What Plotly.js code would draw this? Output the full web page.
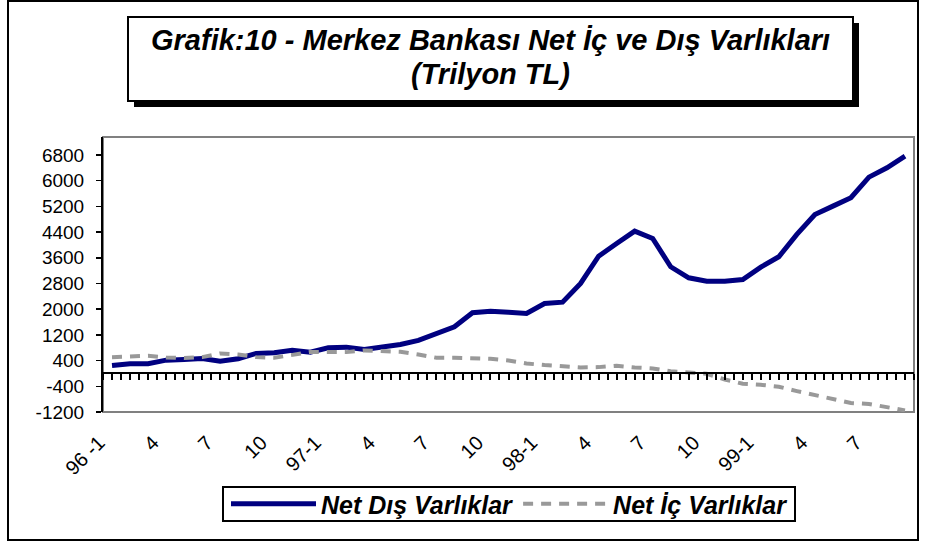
<!DOCTYPE html>
<html>
<head>
<meta charset="utf-8">
<script src="https://cdn.plot.ly/plotly-3.0.1.min.js"></script>
<style>html,body{margin:0;padding:0;background:#fff;}#chart{width:926px;height:548px;}</style>
</head>
<body>
<div id="chart"></div>
<script>
// ---- data ----
const months = [
  "96-1","96-2","96-3","96-4","96-5","96-6","96-7","96-8","96-9","96-10","96-11","96-12",
  "97-1","97-2","97-3","97-4","97-5","97-6","97-7","97-8","97-9","97-10","97-11","97-12",
  "98-1","98-2","98-3","98-4","98-5","98-6","98-7","98-8","98-9","98-10","98-11","98-12",
  "99-1","99-2","99-3","99-4","99-5","99-6","99-7","99-8","99-9"
];
const netDis = [249, 302, 302, 414, 436, 467, 383, 458, 623, 644, 725, 663,
  800, 819, 747, 819, 903, 1027, 1245, 1454, 1889, 1939, 1908, 1868,
  2179, 2219, 2802, 3651, 4047, 4430, 4202, 3321, 2978, 2873, 2873, 2926,
  3309, 3633, 4327, 4949, 5208, 5469, 6111, 6403, 6765];
const netIc = [508, 540, 550, 498, 477, 508, 623, 591, 508, 487, 581, 664,
  664, 664, 716, 695, 674, 591, 487, 487, 467, 456, 400, 311,
  260, 218, 187, 197, 239, 187, 156, 72, 21, -10, -187, -322,
  -353, -415, -550, -675, -788, -920, -950, -1040, -1150];
const tickMonths = ["96-1","96-4","96-7","96-10","97-1","97-4","97-7","97-10",
  "98-1","98-4","98-7","98-10","99-1","99-4","99-7"];
const tickLabels = ["96 -1","4","7","10","97-1","4","7","10","98-1","4","7","10","99-1","4","7"];
const yTicks = [-1200, -400, 400, 1200, 2000, 2800, 3600, 4400, 5200, 6000, 6800];
const yTickLabels = ["-1200", "-400", "400", "1200", "2000", "2800", "3600", "4400", "5200", "6000", "6800"];
const seriesNames = ["Net Dış Varlıklar", "Net İç Varlıklar"];
const titleLines = ["Grafik:10 - Merkez Bankası Net İç ve Dış Varlıkları", "(Trilyon TL)"];

// ---- layout helpers (pixel -> paper) ----
const W = 926, H = 548;
const M = {l: 103, r: 12, t: 137, b: 136};
const PW = W - M.l - M.r, PH = H - M.t - M.b;
const px = x => (x - M.l) / PW;
const py = y => (H - M.b - y) / PH;
const yMin = -1200, yMax = 7360;
const FONT = "Liberation Sans, Arial, sans-serif";

const traces = [
  {x: months, y: netDis, name: seriesNames[0], type: "scatter", mode: "lines",
   line: {color: "#000080", width: 5}},
  {x: months, y: netIc, name: seriesNames[1], type: "scatter", mode: "lines",
   line: {color: "#999999", width: 4, dash: "10px,8px"}},
  // carrier so the zero-line tick axis is drawn (no visible marks)
  {x: [null], y: [null], xaxis: "x2", yaxis: "y", type: "scatter", mode: "lines",
   showlegend: false, hoverinfo: "skip"}
];

const rect = (x0, y0, x1, y1, opts) => Object.assign({
  type: "rect", xref: "paper", yref: "paper",
  x0: px(x0), x1: px(x1), y0: py(y1), y1: py(y0), layer: "above"
}, opts);

const titleFont = {family: FONT, size: 29, weight: "bold", style: "italic", color: "#000"};

const layout = {
  width: W, height: H,
  margin: M,
  paper_bgcolor: "#fff", plot_bgcolor: "#fff",
  showlegend: true,
  font: {family: FONT, color: "#000"},
  xaxis: {
    type: "category", categoryarray: months, range: [-0.5, months.length - 0.5],
    tickmode: "array", tickvals: tickMonths, ticktext: tickLabels,
    tickangle: -45, ticks: "", showline: false, showgrid: false, zeroline: false,
    tickfont: {family: FONT, size: 20, color: "#000"}, ticklabelstandoff: 14,
    ticklabelshift: -13,
    fixedrange: true
  },
  xaxis2: {
    overlaying: "x", anchor: "free", position: (0 - yMin) / (yMax - yMin), side: "bottom",
    type: "linear", range: [-0.5, months.length - 0.5],
    tick0: 0, dtick: 0.5, ticks: "outside", ticklen: 6, tickwidth: 2, tickcolor: "#000",
    showline: true, linecolor: "#000", linewidth: 2,
    showticklabels: false, showgrid: false, zeroline: false, fixedrange: true
  },
  yaxis: {
    range: [yMin, yMax], tickmode: "array", tickvals: yTicks, ticktext: yTickLabels,
    ticks: "outside", ticklen: 5, tickwidth: 1.5, tickcolor: "#000",
    showline: true, linecolor: "#000", linewidth: 2,
    showgrid: false, zeroline: false,
    tickfont: {family: FONT, size: 19, color: "#000"}, ticklabelstandoff: 8,
    fixedrange: true
  },
  legend: {
    orientation: "h", x: px(226), xanchor: "left", y: py(504), yanchor: "middle",
    bgcolor: "rgba(0,0,0,0)", borderwidth: 0,
    font: {family: FONT, size: 25, weight: "bold", style: "italic", color: "#000"},
    itemwidth: 85, tracegroupgap: 0
  },
  annotations: [
    {text: titleLines[0], xref: "paper", yref: "paper", x: px(490.5), y: py(40),
     xanchor: "center", yanchor: "middle", showarrow: false, font: titleFont},
    {text: titleLines[1], xref: "paper", yref: "paper", x: px(490.5), y: py(74),
     xanchor: "center", yanchor: "middle", showarrow: false, font: titleFont}
  ],
  shapes: [
    rect(8, 1, 918, 540, {line: {color: "#000", width: 2}}),
    rect(134, 23, 859, 107, {fillcolor: "#000", line: {width: 0}}),
    rect(128, 17, 853, 101, {fillcolor: "#fff", line: {color: "#000", width: 2}}),
    rect(223, 487, 795, 521, {fillcolor: "rgba(0,0,0,0)", line: {color: "#000", width: 2}}),
    {type: "rect", xref: "paper", yref: "paper", x0: 0, x1: 1, y0: 0, y1: 1,
     line: {color: "#808080", width: 2}, layer: "below"}
  ]
};

Plotly.newPlot("chart", traces, layout, {displayModeBar: false, staticPlot: true});
</script>
</body>
</html>
